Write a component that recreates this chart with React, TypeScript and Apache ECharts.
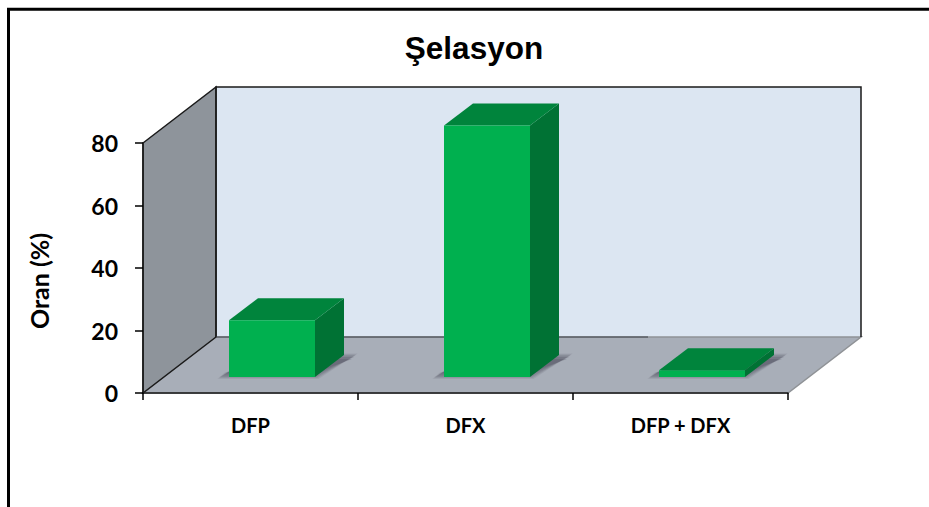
import React, { useEffect, useRef } from "react";
import * as echarts from "echarts";

const categories = ["DFP", "DFX", "DFP + DFX"];
const values = [18.2, 80.5, 2.2];
const yMax = 80;
const yStep = 20;
const chartTitle = "Şelasyon";
const yName = "Oran (%)";

const WALL_DX = 73;
const WALL_DY = -56;
const BAR_DX = 29;
const BAR_DY = -22;
const BAR_SHIFT_X = 21.5;
const BAR_SHIFT_Y = -16;
const FONT = "Lato, Carlito, 'Open Sans', sans-serif";

function renderScene(params: any) {
  const c = params.coordSys;
  const l = c.x, t = c.y, r = c.x + c.width, b = c.y + c.height;
  const ink = "#1a1a1a";
  return {
    type: "group",
    children: [
      {
        type: "polygon",
        shape: { points: [[l + WALL_DX, t + WALL_DY], [r + WALL_DX, t + WALL_DY], [r + WALL_DX, b + WALL_DY], [l + WALL_DX, b + WALL_DY]] },
        style: { fill: "#dce6f2" },
      },
      {
        type: "polygon",
        shape: { points: [[l, b], [l + WALL_DX, b + WALL_DY], [r + WALL_DX, b + WALL_DY], [r, b]] },
        style: { fill: "#a8aeb8", stroke: "#8f9296", lineWidth: 1.5 },
      },
      {
        type: "polygon",
        shape: { points: [[l, t], [l + WALL_DX, t + WALL_DY], [l + WALL_DX, b + WALL_DY], [l, b]] },
        style: { fill: "#8e949b", stroke: ink, lineWidth: 1.5 },
      },
      {
        type: "polyline",
        shape: { points: [[l + WALL_DX, b + WALL_DY], [l + WALL_DX, t + WALL_DY], [r + WALL_DX, t + WALL_DY], [r + WALL_DX, b + WALL_DY]] },
        style: { fill: "none", stroke: ink, lineWidth: 1.5 },
      },
      {
        type: "line",
        shape: { x1: l + WALL_DX, y1: b + WALL_DY, x2: r - 140, y2: b + WALL_DY },
        style: { stroke: "#3c4048", lineWidth: 1 },
      },
    ],
  };
}

function renderShadow(params: any, api: any) {
  const idx = api.value(0);
  const [cx, y0] = api.coord([idx, 0]);
  const w = api.size([1, 0])[0] * 0.4;
  const x1 = cx + BAR_SHIFT_X - w / 2;
  const x2 = x1 + w;
  const yb = y0 + BAR_SHIFT_Y;
  // soft edge built from stacked translucent footprints
  const layer = (grow: number, alpha: number) => ({
    type: "polygon",
    shape: {
      points: [
        [x1 - 10 - grow, yb + 0.5 + grow],
        [x2 + 2 + grow, yb + 0.5 + grow],
        [x2 + BAR_DX + 12 + grow, yb + BAR_DY - grow],
        [x1 + BAR_DX - grow, yb + BAR_DY - grow],
      ],
    },
    style: { fill: `rgba(80,80,95,${alpha})` },
  });
  return {
    type: "group",
    children: [layer(1.5, 0.12), layer(0.5, 0.16), layer(-0.5, 0.2), layer(-2, 0.25), layer(-4, 0.3)],
  };
}

function renderBar(params: any, api: any) {
  const idx = api.value(0);
  const [cx, y0] = api.coord([idx, 0]);
  const yv = api.coord([idx, api.value(1)])[1];
  const w = api.size([1, 0])[0] * 0.4;
  const x1 = cx + BAR_SHIFT_X - w / 2;
  const x2 = x1 + w;
  const yb = y0 + BAR_SHIFT_Y;
  const yt = yv + BAR_SHIFT_Y;
  return {
    type: "group",
    children: [
      {
        type: "polygon",
        shape: { points: [[x2, yb], [x2 + BAR_DX, yb + BAR_DY], [x2 + BAR_DX, yt + BAR_DY], [x2, yt]] },
        style: { fill: "#007234" },
      },
      {
        type: "polygon",
        shape: { points: [[x1, yt], [x2, yt], [x2 + BAR_DX, yt + BAR_DY], [x1 + BAR_DX, yt + BAR_DY]] },
        style: { fill: "#00843c" },
      },
      {
        type: "polygon",
        shape: { points: [[x1, yb], [x2, yb], [x2, yt], [x1, yt]] },
        style: { fill: "#00b04f" },
      },
    ],
  };
}

export default function App() {
  const ref = useRef<HTMLDivElement>(null);
  useEffect(() => {
    const chart = echarts.init(ref.current!, undefined, { renderer: "svg" });
    const barData = values.map((v, i) => [i, v]);
    chart.setOption({
      animation: false,
      backgroundColor: "#ffffff",
      title: {
        text: chartTitle,
        left: 469,
        top: 27,
        textAlign: "center",
        textStyle: { fontFamily: "'Liberation Sans', Arial, sans-serif", fontSize: 31.5, fontWeight: "bold", color: "#000" },
      },
      grid: { left: 143, top: 143, width: 645, height: 250 },
      xAxis: {
        type: "category",
        data: categories,
        z: 5,
        axisLine: { lineStyle: { color: "#1a1a1a", width: 1.5 } },
        axisTick: { show: true, length: 7, alignWithLabel: false, lineStyle: { color: "#000", width: 1.5 } },
        axisLabel: { color: "#000", fontFamily: FONT, fontWeight: "bold", fontSize: 20, margin: 22, interval: 0 },
      },
      yAxis: {
        type: "value",
        min: 0,
        max: yMax,
        interval: yStep,
        z: 5,
        splitLine: { show: false },
        axisLine: { show: true, lineStyle: { color: "#1a1a1a", width: 1.5 } },
        axisTick: { show: true, length: 8, lineStyle: { color: "#000", width: 1.5 } },
        axisLabel: { color: "#000", fontFamily: FONT, fontWeight: "bold", fontSize: 23, margin: 25, padding: [4, 0, 0, 0] },
      },
      graphic: [
        {
          type: "polyline",
          silent: true,
          z: 20,
          shape: { points: [[8.5, 520], [8.5, 9.25], [940, 9.25]] },
          style: { fill: "none", stroke: "#000", lineWidth: 3 },
        },
        {
          type: "text",
          silent: true,
          x: 39,
          y: 281,
          rotation: Math.PI / 2,
          style: {
            text: yName,
            fill: "#000",
            font: `bold 25px ${FONT}`,
            align: "center",
            verticalAlign: "middle",
          },
        },
      ],
      series: [
        { type: "custom", z: 1, silent: true, data: [[0, 0]], renderItem: renderScene },
        { type: "custom", z: 2, silent: true, data: barData, renderItem: renderShadow },
        { type: "custom", z: 3, silent: true, data: barData, renderItem: renderBar },
      ],
    });
    return () => chart.dispose();
  }, []);
  return <div ref={ref} style={{ position: "absolute", left: 0, top: 0, width: 929, height: 507 }} />;
}
